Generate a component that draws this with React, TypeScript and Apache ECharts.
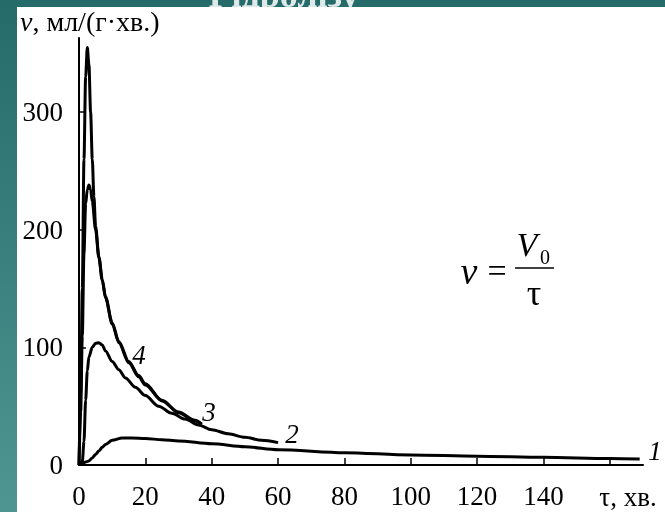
import React, { useEffect, useRef } from "react";
import * as echarts from "echarts";

// ---- data ----
const tau1 = [0, 1, 2, 3, 4, 5, 6, 7, 8, 10, 13, 16, 20, 25, 30, 40, 50, 60, 80, 100, 120, 140, 160, 169];
const v1 = [0, 1.5, 2.5, 3.5, 6, 9, 12, 15, 17.5, 21, 23, 23, 22.5, 21.5, 20.5, 18, 15.5, 13, 10.5, 8.5, 7.5, 6.5, 5.5, 5];

const tau2 = [0, 1, 1.5, 2, 2.5, 3, 4, 5, 6, 7, 8, 10, 12, 14, 17, 20, 24, 28, 32, 36, 40, 45, 50, 55, 60];
const v2 = [0, 3, 20, 55, 80, 92, 100, 103.5, 104, 102, 97, 88, 81, 74, 66, 59, 50, 44, 39, 34, 30, 26.5, 23.5, 21, 19];

const tau3 = [0, 0.5, 1, 1.5, 2, 2.5, 3, 3.5, 4, 5, 6, 7, 8, 10, 12, 15, 18, 20, 25, 30, 35, 37];
const v3 = [0, 45, 110, 180, 222, 234, 238, 234, 224, 200, 176, 157, 142, 120, 104, 87, 75, 68, 54.5, 44.5, 37.5, 34.5];

const tau4 = [0, 0.5, 1, 1.5, 2, 2.5, 3, 3.5, 4, 4.5, 5, 6, 7, 8, 10, 12, 15, 18, 20, 25, 30, 35, 37];
const v4 = [0, 60, 150, 260, 330, 355, 340, 300, 260, 228, 203, 177, 158, 143, 121, 105, 88, 76, 69, 55, 45, 38, 35];

const xTicks = [0, 20, 40, 60, 80, 100, 120, 140, 160];
const xLabels = [0, 20, 40, 60, 80, 100, 120, 140];
const yTicks = [100, 200, 300];
const yLabels = [0, 100, 200, 300];

const curveNames = ["1", "2", "3", "4"];

const SERIF = '"Liberation Serif", "Times New Roman", serif';

function pairs(t: number[], v: number[]) {
  return t.map((x, i) => [x, v[i]]);
}

export default function App() {
  const ref = useRef<HTMLDivElement>(null);
  useEffect(() => {
    if (!ref.current) return;
    const chart = echarts.init(ref.current, null, { renderer: "svg" });
    const seriesData = [pairs(tau1, v1), pairs(tau2, v2), pairs(tau3, v3), pairs(tau4, v4)];
    const lbl = (text: string, x: number, y: number) => ({
      type: "text",
      z: 10,
      x,
      y,
      style: {
        text,
        fill: "#000",
        font: `italic 27px ${SERIF}`,
        align: "center",
        verticalAlign: "middle",
      },
    });
    const txt = (text: string, x: number, y: number, font: string) => ({
      type: "text",
      z: 10,
      x,
      y,
      style: { text, fill: "#000", font, align: "center", verticalAlign: "middle" },
    });
    chart.setOption({
      animation: false,
      backgroundColor: "transparent",
      grid: { left: 79, right: 22, top: 38, bottom: 47 },
      xAxis: {
        type: "value",
        min: 0,
        max: 170,
        interval: 20,
        axisLine: { lineStyle: { color: "#000", width: 2 } },
        axisTick: { inside: true, length: 7, lineStyle: { color: "#000", width: 1.5 }, customValues: xTicks },
        axisLabel: { customValues: xLabels, color: "#000", fontSize: 27, fontFamily: SERIF, margin: 17 },
        splitLine: { show: false },
      },
      yAxis: {
        type: "value",
        min: 0,
        max: 363,
        interval: 100,
        axisLine: { show: true, lineStyle: { color: "#000", width: 2 } },
        axisTick: { show: true, inside: true, length: 7, lineStyle: { color: "#000", width: 1.5 }, customValues: yTicks },
        axisLabel: { customValues: yLabels, color: "#000", fontSize: 27, fontFamily: SERIF, margin: 16 },
        splitLine: { show: false },
      },
      graphic: [
        {
          type: "rect",
          z: -10,
          z2: 0,
          shape: { x: 0, y: 0, width: 665, height: 512 },
          style: {
            fill: new echarts.graphic.LinearGradient(0, 0, 0, 1, [
              { offset: 0, color: "#256b6a" },
              { offset: 1, color: "#4f9692" },
            ]),
          },
        },
        {
          type: "text",
          z: -10,
          z2: 1,
          x: 284,
          y: -5,
          style: {
            text: "Гідролізу",
            fill: "#dfe9e9",
            font: `bold 36px ${SERIF}`,
            align: "center",
            verticalAlign: "middle",
          },
        },
        {
          type: "rect",
          z: -10,
          z2: 2,
          shape: { x: 17, y: 7, width: 648, height: 505 },
          style: { fill: "#ffffff" },
        },
        {
          type: "text",
          z: 10,
          x: 20,
          y: 21,
          style: {
            text: "{i|v}, мл/(г·хв.)",
            fill: "#000",
            font: `28px ${SERIF}`,
            align: "left",
            verticalAlign: "middle",
            rich: { i: { fontStyle: "italic", fontSize: 28, fontFamily: SERIF, fill: "#000" } },
          },
        },
        txt("τ, хв.", 628, 497, `27px ${SERIF}`),
        lbl(curveNames[0], 655, 451),
        lbl(curveNames[1], 292, 434),
        lbl(curveNames[2], 209, 412),
        lbl(curveNames[3], 139, 355),
        // formula v = V0 / tau
        txt("v", 469, 271, `italic 38px ${SERIF}`),
        txt("=", 497, 270, `34px ${SERIF}`),
        {
          type: "line",
          z: 10,
          shape: { x1: 515, y1: 268, x2: 554, y2: 268 },
          style: { stroke: "#000", lineWidth: 1.5 },
        },
        txt("V", 527, 244, `italic 34px ${SERIF}`),
        txt("0", 545, 257, `20px ${SERIF}`),
        txt("τ", 534, 293, `36px ${SERIF}`),
      ],
      series: seriesData.map((d, i) => ({
        type: "line",
        name: curveNames[i],
        data: d,
        showSymbol: false,
        smooth: 0.3,
        smoothMonotone: "x",
        lineStyle: { color: "#000", width: 3 },
        z: 3,
      })),
    });
    return () => chart.dispose();
  }, []);
  return (
    <div
      ref={ref}
      style={{ position: "fixed", left: 0, top: 0, width: 665, height: 512 }}
    />
  );
}
